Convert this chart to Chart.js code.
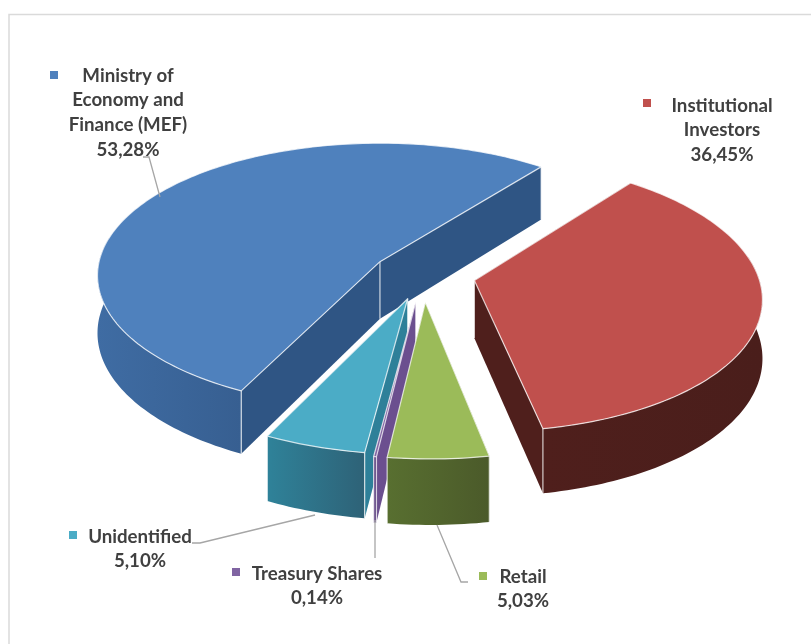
<!DOCTYPE html>
<html>
<head>
<meta charset="utf-8">
<title>Shareholders</title>
<script src="https://cdn.jsdelivr.net/npm/chart.js@4"></script>
<style>
  html, body { margin: 0; padding: 0; background: #fff; }
  canvas { display: block; }
</style>
</head>
<body>
<canvas id="pieChart" width="811" height="644"></canvas>
<script>
// data, clockwise from the lower left corner of the big slice
const categories = ['Ministry of Economy and Finance (MEF)', 'Institutional Investors', 'Retail', 'Treasury Shares', 'Unidentified'];
const shares = [53.28, 36.45, 5.03, 0.14, 5.10];
const labelLines = [
    ['Ministry of', 'Economy and', 'Finance (MEF)'],
    ['Institutional', 'Investors'],
    ['Retail'],
    ['Treasury Shares'],
    ['Unidentified']
];

// slice styles
const topColors = ['#4f81bd', '#c0504d', '#9bbb59', '#8064a2', '#4bacc6'];
const wallColors = ['#2f5584', '#4f1f1c', '#4f5f2b', '#6b4f8f', '#2e8099'];
const rimLeft = ['#3f6ca3', '#4f1f1c', '#586f30', '#6b4f8f', '#2f8299'];
const rimRight = ['#375f91', '#4a1e1b', '#4b5a2a', '#5c437c', '#2e6277'];
const explode = [202, 208, 230, 228, 210];
const drawOrder = [0, 1, 4, 3, 2];

// label placement: text centre, first line y, marker box, leader line
const labelBoxes = [
    { cx: 128, y: 75.5, mx: 50, my: 71, line: [[143, 157], [149, 157], [160, 197]] },
    { cx: 722, y: 105.5, mx: 643, my: 99 },
    { cx: 523, y: 576.5, mx: 479, my: 572, line: [[437, 525], [461, 582], [468, 582]] },
    { cx: 317, y: 573.5, mx: 232, my: 568, line: [[375, 520], [375, 558]] },
    { cx: 140, y: 536.5, mx: 69, my: 531, line: [[192, 543], [200, 543], [315, 515]] }
];

// the tilted view of the pie plane
const CAM = { x: 379, y: 262, rx: 281, ry: 131, p: 0.105, shiftU: 0.155, shiftV: 0.094, depth: 57 };

function project(u, v) {
    const U = u + CAM.shiftU;
    const V = v + CAM.shiftV;
    const w = 1 - CAM.p * V;
    return { x: CAM.x + CAM.rx * U / w, y: CAM.y + CAM.ry * V / w, h: CAM.depth / w };
}

function poly(ctx, pts) {
    ctx.beginPath();
    pts.forEach((p, i) => i ? ctx.lineTo(p.x, p.y) : ctx.moveTo(p.x, p.y));
    ctx.closePath();
}

function drop(p) {
    return { x: p.x, y: p.y + p.h, h: p.h };
}

function drawSlice(ctx, arc, i) {
    const a0 = arc.startAngle;
    const a1 = arc.endAngle;
    const mid = (a0 + a1) / 2;
    const off = arc.options.offset / 4 / arc.outerRadius;
    const ou = Math.cos(mid) * off;
    const ov = Math.sin(mid) * off;

    const apex = project(ou, ov);
    const rim = [];
    const front = []; // the part of the rim that faces the viewer
    const n = Math.max(2, Math.ceil((a1 - a0) / 0.02));
    for (let k = 0; k <= n; k++) {
        const a = a0 + (a1 - a0) * k / n;
        const p = project(ou + Math.cos(a), ov + Math.sin(a));
        rim.push(p);
        if (Math.sin(a) > -0.2) front.push(p);
    }
    const first = rim[0];
    const last = rim[rim.length - 1];

    // flat walls
    ctx.fillStyle = wallColors[i];
    [first, last].forEach(p => {
        poly(ctx, [apex, p, drop(p), drop(apex)]);
        ctx.fill();
    });

    // curved wall
    if (front.length > 1) {
        const xs = front.map(p => p.x);
        const grad = ctx.createLinearGradient(Math.min(...xs), 0, Math.max(...xs), 0);
        grad.addColorStop(0, rimLeft[i]);
        grad.addColorStop(1, rimRight[i]);
        ctx.fillStyle = grad;
        poly(ctx, front.concat(front.map(drop).reverse()));
        ctx.fill();
    }

    // edges
    ctx.strokeStyle = 'rgba(255,255,255,0.75)';
    ctx.lineWidth = 1.2;
    [apex, first, last].forEach(p => {
        ctx.beginPath();
        ctx.moveTo(p.x, p.y);
        ctx.lineTo(p.x, p.y + p.h);
        ctx.stroke();
    });

    // top face
    poly(ctx, [apex].concat(rim));
    ctx.fillStyle = arc.options.backgroundColor;
    ctx.fill();
    ctx.lineJoin = 'round';
    ctx.stroke();
}

const slices3d = {
    id: 'slices3d',
    beforeDatasetDraw(chart) {
        const ctx = chart.ctx;
        const arcs = chart.getDatasetMeta(0).data;
        ctx.save();
        drawOrder.forEach(i => drawSlice(ctx, arcs[i], i));
        ctx.restore();
        return false;
    }
};

const frameAndLabels = {
    id: 'frameAndLabels',
    afterDraw(chart) {
        const ctx = chart.ctx;
        ctx.save();

        // chart border, runs off the right and bottom of the picture
        ctx.strokeStyle = '#dadada';
        ctx.lineWidth = 1.5;
        ctx.beginPath();
        ctx.moveTo(9, 644);
        ctx.lineTo(9, 14.5);
        ctx.lineTo(811, 14.5);
        ctx.stroke();

        ctx.textAlign = 'center';
        ctx.textBaseline = 'middle';
        ctx.font = 'bold 18.7px Lato';
        labelBoxes.forEach((b, i) => {
            if (b.line) {
                ctx.strokeStyle = '#a6a6a6';
                ctx.lineWidth = 1.3;
                ctx.beginPath();
                b.line.forEach((p, k) => k ? ctx.lineTo(p[0], p[1]) : ctx.moveTo(p[0], p[1]));
                ctx.stroke();
            }
            ctx.fillStyle = topColors[i];
            ctx.fillRect(b.mx, b.my, 8, 8);
            ctx.fillStyle = '#404040';
            const lines = labelLines[i].concat(shares[i].toFixed(2).replace('.', ',') + '%');
            lines.forEach((t, k) => ctx.fillText(t, b.cx, b.y + k * 24.7));
        });
        ctx.restore();
    }
};

new Chart(document.getElementById('pieChart'), {
    type: 'pie',
    data: {
        labels: categories,
        datasets: [{
            data: shares,
            backgroundColor: topColors,
            borderWidth: 0,
            offset: explode
        }]
    },
    options: {
        responsive: false,
        animation: false,
        radius: CAM.rx,
        rotation: -153.4,
        events: [],
        plugins: { legend: { display: false }, tooltip: { enabled: false } }
    },
    plugins: [slices3d, frameAndLabels]
});
</script>
</body>
</html>
